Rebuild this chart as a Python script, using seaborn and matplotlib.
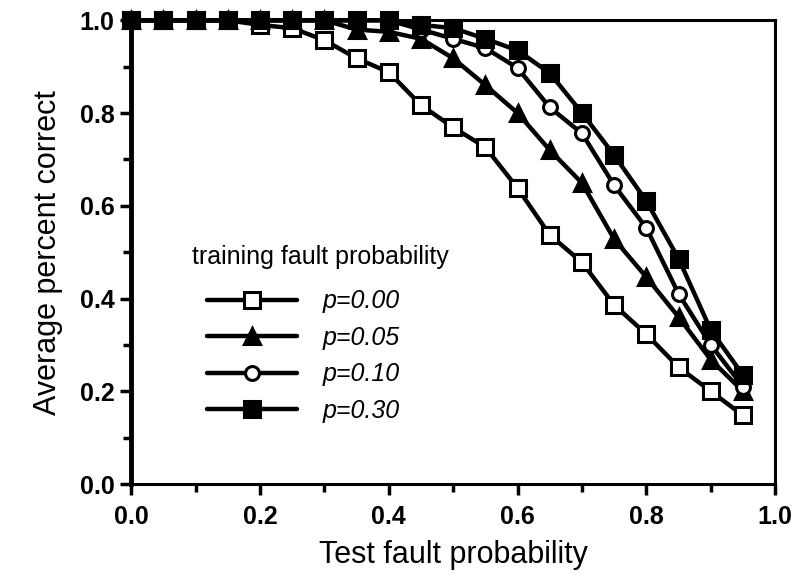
import numpy as np
import pandas as pd
import matplotlib
matplotlib.use("Agg")
import matplotlib.pyplot as plt
import seaborn as sns
from matplotlib.ticker import MultipleLocator, FormatStrFormatter

# test fault probability (x) and average percent correct per training fault probability
test_p = [0.00, 0.05, 0.10, 0.15, 0.20, 0.25, 0.30, 0.35, 0.40, 0.45,
          0.50, 0.55, 0.60, 0.65, 0.70, 0.75, 0.80, 0.85, 0.90, 0.95]
acc_p000 = [1.0, 1.0, 1.0, 1.0, 0.99, 0.983, 0.957, 0.918, 0.888, 0.817,
            0.769, 0.726, 0.638, 0.537, 0.478, 0.386, 0.323, 0.252, 0.200, 0.148]
acc_p005 = [1.0, 1.0, 1.0, 1.0, 1.0, 1.0, 1.0, 0.98, 0.975, 0.96,
            0.918, 0.86, 0.80, 0.72, 0.649, 0.528, 0.446, 0.36, 0.268, 0.200]
acc_p010 = [1.0, 1.0, 1.0, 1.0, 1.0, 1.0, 1.0, 1.0, 1.0, 0.98,
            0.96, 0.94, 0.897, 0.812, 0.756, 0.644, 0.552, 0.41, 0.30, 0.21]
acc_p030 = [1.0, 1.0, 1.0, 1.0, 1.0, 1.0, 1.0, 1.0, 1.0, 0.99,
            0.983, 0.96, 0.935, 0.886, 0.80, 0.709, 0.61, 0.486, 0.332, 0.235]
labels = ["p=0.00", "p=0.05", "p=0.10", "p=0.30"]

sns.set_style("ticks")
plt.rcParams["font.family"] = ["Liberation Sans", "DejaVu Sans"]
plt.rcParams["text.color"] = "black"
plt.rcParams["axes.labelcolor"] = "black"
plt.rcParams["xtick.color"] = "black"
plt.rcParams["ytick.color"] = "black"

fig = plt.figure(figsize=(8, 5.79), dpi=100)
ax = fig.add_axes([0.164, 0.164, 0.805, 0.801])

styles = [
    dict(marker="s", markerfacecolor="white", markersize=11),
    dict(marker="^", markerfacecolor="black", markersize=12),
    dict(marker="o", markerfacecolor="white", markersize=10),
    dict(marker="s", markerfacecolor="black", markersize=11),
]
series = [acc_p000, acc_p005, acc_p010, acc_p030]

for vals, lab, st in zip(series, labels, styles):
    df = pd.DataFrame({"x": test_p, "y": vals})
    sns.lineplot(data=df, x="x", y="y", ax=ax, color="black", linewidth=3.2,
                 markeredgecolor="black", markeredgewidth=2.2, label=lab,
                 clip_on=False, **st)

ax.set_xlim(0, 1)
ax.set_ylim(0, 1)
ax.xaxis.set_major_locator(MultipleLocator(0.2))
ax.xaxis.set_minor_locator(MultipleLocator(0.1))
ax.yaxis.set_major_locator(MultipleLocator(0.2))
ax.yaxis.set_minor_locator(MultipleLocator(0.1))
ax.xaxis.set_major_formatter(FormatStrFormatter("%.1f"))
ax.yaxis.set_major_formatter(FormatStrFormatter("%.1f"))
ax.tick_params(which="major", direction="out", length=8, width=2.5,
               labelsize=18, color="black")
ax.tick_params(axis="x", which="major", pad=7)
ax.tick_params(axis="y", which="major", pad=4)
ax.tick_params(which="minor", direction="out", length=6, width=2.5, color="black")
for lbl in ax.get_xticklabels() + ax.get_yticklabels():
    lbl.set_fontweight("bold")

for side in ["top", "right", "bottom"]:
    ax.spines[side].set_linewidth(2.2)
    ax.spines[side].set_color("black")
ax.spines["left"].set_linewidth(3.5)
ax.spines["left"].set_color("black")

ax.set_xlabel("Test fault probability", fontsize=22, labelpad=8)
ax.set_ylabel("Average percent correct", fontsize=22, labelpad=12)

ax.text(0.095, 0.49, "training fault probability", transform=ax.transAxes,
        fontsize=18, ha="left", va="center")
leg = ax.legend(loc="upper left", bbox_to_anchor=(0.118, 0.42), frameon=False,
                fontsize=18, handlelength=3.6, handletextpad=1.0,
                labelspacing=0.5, borderpad=0, borderaxespad=0)
for t in leg.get_texts():
    t.set_style("italic")

fig.savefig("out.png", dpi=100)
